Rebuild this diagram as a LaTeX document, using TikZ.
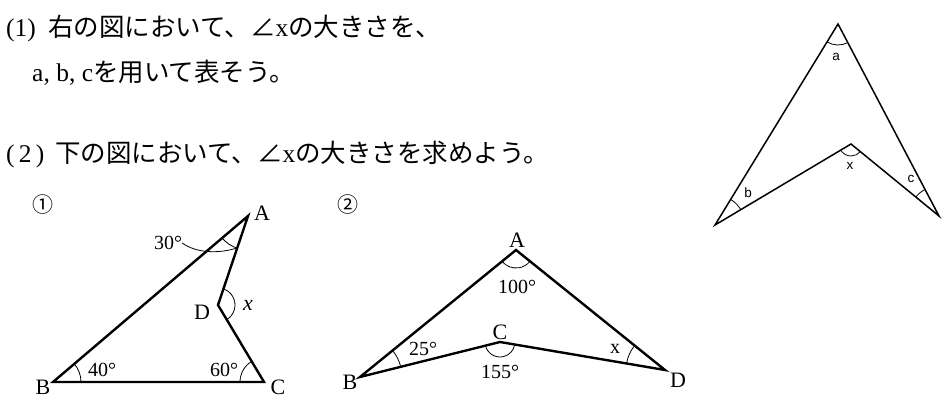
\documentclass[tikz,border=0pt]{standalone}
\usepackage{fontspec}
\setmainfont{Liberation Serif}
\newfontfamily\cjk{Noto Sans CJK JP}
\newfontfamily\lsans{Liberation Sans}
\begin{document}
\begin{tikzpicture}[x=1pt,y=1pt,
  txt/.style={anchor=base west,inner sep=0pt,font=\fontsize{25.5}{28}\selectfont},
  lab/.style={inner sep=0pt,font=\fontsize{22}{24}\selectfont},
  deg/.style={inner sep=0pt,font=\fontsize{20}{22}\selectfont},
  slab/.style={inner sep=0pt,font=\lsans\fontsize{13.5}{14}\selectfont},
  num/.style={inner sep=0pt,font=\cjk\fontsize{21}{22}\selectfont},
  figthick/.style={line width=2.4pt,line join=miter},
  figthin/.style={line width=1.5pt,line join=miter},
  amark/.style={line width=0.8pt}]
\useasboundingbox (0,0) rectangle (950,400);

% ---------- text ----------
\node[txt] (t1a) at (6,363) {(1)};
\node[txt] (t1b) at (48,363) {\cjk 右の図において、∠{\rmfamily x}の大きさを、};
\node[txt] (t2) at (32,319) {a, b, c{\cjk を用いて表そう。}};
\node[txt] (t3a) at (6,238) {(\,2\,)};
\node[txt] (t3b) at (55,238) {\cjk 下の図において、∠{\rmfamily x}の大きさを求めよう。};

% ---------- right figure ----------
\coordinate (T) at (838,376);
\coordinate (L) at (715,175);
\coordinate (M) at (851,256);
\coordinate (R) at (939,184);
\draw[figthin] (T) -- (L) -- (M) -- (R) -- cycle;
\draw[amark] (T) ++(238.5:21) arc[start angle=238.5,end angle=297.7,radius=21];
\draw[amark] (L) ++(30.8:30) arc[start angle=30.8,end angle=58.5,radius=30];
\draw[amark] (M) ++(210.8:12) arc[start angle=210.8,end angle=320.7,radius=12];
\draw[amark] (R) ++(117.7:30) arc[start angle=117.7,end angle=140.7,radius=30];
\node[slab] (la) at (836,343) {a};
\node[slab] (lb) at (748,207) {b};
\node[slab] (lx) at (850,234) {x};
\node[slab] (lc) at (911,221) {c};

% ---------- figure 1 ----------
\node[num] (n1) at (43,195) {①};
\coordinate (A1) at (248,184);
\coordinate (B1) at (53,18);
\coordinate (C1) at (264,18);
\coordinate (D1) at (218,95);
\draw[figthick] (B1) -- (C1) -- (D1) -- (A1) -- cycle;
\draw[amark] (B1) ++(0:28) arc[start angle=0,end angle=40.4,radius=28];
\draw[amark] (C1) ++(120.9:24) arc[start angle=120.9,end angle=180,radius=24];
\draw[amark] (A1) ++(220.4:34) arc[start angle=220.4,end angle=251.4,radius=34];
\draw[amark] (D1) ++(-59.1:17) arc[start angle=-59.1,end angle=71.4,radius=17];
\node[lab] (lA1) at (262,187) {A};
\node[lab] (lB1) at (43,13) {B};
\node[lab] (lC1) at (278,13) {C};
\node[lab] (lD1) at (202,88) {D};
\node[lab] (lx1) at (248,95) {\itshape x};
\node[deg] (d30) at (168,157) {30°};
\node[deg] (d40) at (102,30) {40°};
\node[deg] (d60) at (224,30) {60°};
\coordinate (lead) at (237,152);
\draw[amark] (d30.east) .. controls (196,147) and (218,146) .. (lead);

% ---------- figure 2 ----------
\node[num] (n2) at (348,195) {②};
\coordinate (A2) at (516,150);
\coordinate (B2) at (360,23);
\coordinate (C2) at (500,58);
\coordinate (D2) at (665,30);
\draw[figthick] (B2) -- (C2) -- (D2) -- (A2) -- cycle;
\draw[amark] (A2) ++(218.97:18) arc[start angle=218.97,end angle=321.15,radius=18];
\draw[amark] (B2) ++(13.94:42) arc[start angle=13.94,end angle=38.97,radius=42];
\draw[amark] (C2) ++(193.94:15) arc[start angle=193.94,end angle=350.37,radius=15];
\draw[amark] (D2) ++(141.15:39) arc[start angle=141.15,end angle=170.37,radius=39];
\node[lab] (lA2) at (517,160) {A};
\node[lab] (lB2) at (350,18) {B};
\node[lab] (lC2) at (500,68) {C};
\node[lab] (lD2) at (678,20) {D};
\node[deg] (d100) at (517,113) {100°};
\node[deg] (d25) at (423,51) {25°};
\node[deg] (d155) at (500,28) {155°};
\node[deg] (lx2) at (615,51) {x};
\end{tikzpicture}
\end{document}
